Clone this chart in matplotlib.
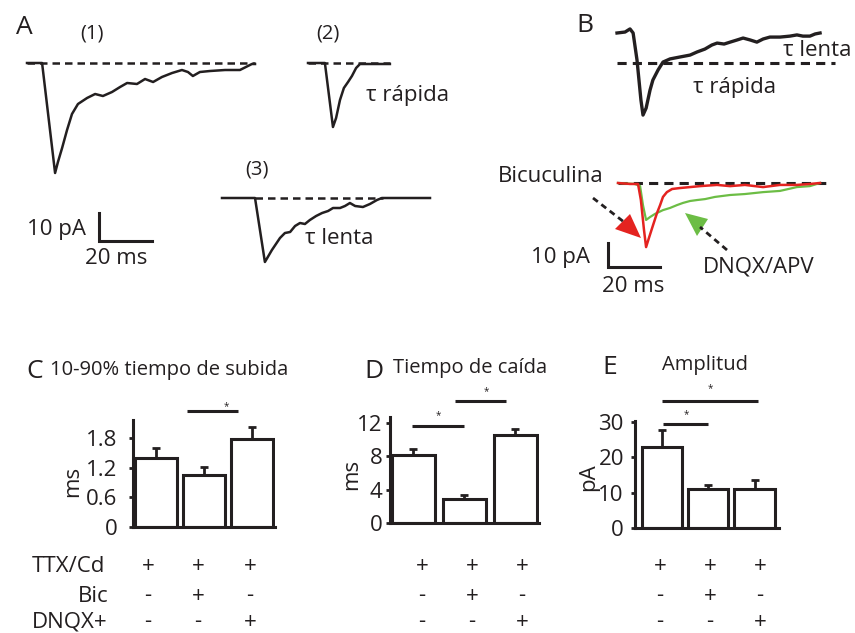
import matplotlib
matplotlib.use("Agg")
import matplotlib.pyplot as plt
from matplotlib.transforms import Affine2D
from matplotlib.patches import Polygon
import numpy as np

plt.rcParams['font.family'] = ['Open Sans', 'DejaVu Sans']

# ---------------- data ----------------
# Panel A traces (time in ms, current in pA)
a1_t = [0, 5.8, 10.8, 11.9, 13.5, 15.4, 17.3, 19.6, 23.1, 26.2, 29.2, 32.7, 35.8, 38.5, 42.3, 45.4,
        48.5, 51.9, 55.8, 59.6, 61.9, 63.8, 66.5, 70.4, 76.2, 81.9, 84.2, 86.5, 87.7]
a1_i = [0, 0, -44.0, -39.6, -34.0, -26.8, -20.4, -16.4, -14.0, -12.4, -13.2, -11.6, -9.6, -8.0, -8.4, -6.4,
        -7.6, -5.6, -4.0, -2.8, -3.6, -5.2, -3.6, -3.2, -2.8, -2.8, -1.6, -0.4, -0.4]
a2_t = [0, 6.5, 9.6, 10.8, 12.3, 13.8, 15.4, 16.9, 18.5, 20.0, 31.5]
a2_i = [0, 0, -25.6, -22.0, -14.8, -10.0, -7.6, -5.2, -2.0, -0.4, -0.4]
a3_t = [0, 12.7, 16.5, 19.2, 22.3, 24.2, 26.2, 28.1, 30.0, 31.9, 33.8, 36.2, 38.5, 40.8, 42.7, 45.4,
        47.3, 49.2, 51.2, 54.2, 56.9, 59.6, 61.5, 80.0]
a3_i = [0, 0, -25.6, -20.8, -16.0, -14.0, -13.6, -11.2, -10.0, -10.4, -8.8, -7.2, -6.0, -5.2, -4.0, -4.0,
        -3.2, -2.0, -3.2, -3.6, -2.4, -0.8, 0, 0]
# Panel B traces
b_t = [0, 3.1, 5.0, 6.2, 7.7, 9.2, 10.0, 11.2, 12.7, 13.8, 15.8, 17.7, 20.4, 24.2, 28.1, 30.8, 33.8, 36.5,
       38.5, 41.2, 43.5, 46.2, 48.5, 51.2, 53.8, 56.2, 58.8, 62.7, 66.5, 69.2, 71.5, 74.2, 76.2, 78.1]
b_i = [0, 0.4, 1.7, 0, -11.3, -27.9, -34.2, -31.3, -23.8, -19.6, -15.4, -12.1, -10.8, -10.0, -9.2, -7.9, -6.7, -5.0,
       -4.2, -4.6, -3.8, -2.9, -2.1, -2.9, -3.8, -2.5, -1.7, -1.7, -1.3, -0.8, -1.3, -1.3, -0.4, 0]
bic_t = [0, 4.6, 7.7, 8.8, 10.0, 10.8, 11.9, 13.5, 15.0, 16.2, 17.3, 18.8, 20.8, 23.8, 27.7, 31.5, 38.1,
         43.1, 48.8, 55.8, 62.3, 68.8, 73.8, 77.7]
bic_i = [0, -0.4, -0.4, -7.1, -19.6, -26.7, -22.9, -17.5, -12.5, -9.2, -5.8, -3.8, -2.5, -2.1, -1.7, -1.3, -0.8,
         -1.3, -0.8, -1.7, -0.8, -0.8, -0.4, 0]
dnqx_t = [0, 6.5, 8.5, 9.6, 10.8, 12.3, 14.2, 17.3, 20.0, 22.7, 25.0, 27.7, 30.4, 33.5, 37.3, 43.1, 48.8,
          55.8, 62.3, 68.8, 73.8, 77.7]
dnqx_i = [0, -0.4, -1.3, -9.2, -15.4, -14.2, -12.9, -11.3, -10.4, -9.2, -8.3, -7.5, -7.1, -6.7, -5.8, -5.0, -4.6,
          -3.8, -3.3, -1.7, -1.3, 0]

# Bar panels
rise_vals = [1.40, 1.06, 1.79]
rise_err = [0.20, 0.16, 0.24]
rise_ticks = [0, 0.6, 1.2, 1.8]
rise_ticklabels = ['0', '0.6', '1.2', '1.8']
decay_vals = [8.2, 2.9, 10.5]
decay_err = [0.7, 0.4, 0.8]
decay_ticks = [0, 4, 8, 12]
amp_vals = [22.9, 11.0, 11.0]
amp_err = [4.9, 1.2, 2.6]
amp_ticks = [0, 10, 20, 30]

row_labels = ['TTX/Cd', 'Bic', 'DNQX+']
ttx_row = ['+', '+', '+']
bic_row = ['-', '+', '-']
dnqx_row = ['-', '-', '+']

# ---------------- figure ----------------
W, H = 855, 633
fig = plt.figure(figsize=(W / 100, H / 100), dpi=100)
ov = fig.add_axes([0, 0, 1, 1], zorder=0)
ov.set_xlim(0, W)
ov.set_ylim(H, 0)
ov.axis('off')

K = '#231f20'
RED = '#e42320'
GREEN = '#6cbd45'
FS = 16      # general label size
FL = 19      # panel letters


def tf(x0, y0, pxms, pxpa):
    return Affine2D().scale(pxms, -pxpa).translate(x0, y0) + ov.transData


dash = (0, (3, 2))

# ---- Panel A ----
ov.text(24, 27, 'A', fontsize=FL, ha='center', va='center', color=K)
t = tf(27, 63, 2.6, 2.5)
ov.plot([a1_t[0], a1_t[-1]], [0, 0], transform=t, color=K, lw=1.8, ls=dash)
ov.plot(a1_t, a1_i, transform=t, color=K, lw=1.8)
ov.text(92, 33, '(1)', fontsize=14.5, ha='center', va='center', color=K)

t = tf(308, 63, 2.6, 2.5)
ov.plot([a2_t[0], a2_t[-1]], [0, 0], transform=t, color=K, lw=1.8, ls=dash)
ov.plot(a2_t, a2_i, transform=t, color=K, lw=1.8)
ov.text(328, 33, '(2)', fontsize=14.5, ha='center', va='center', color=K)
ov.text(366, 95, 'τ rápida', fontsize=FS, ha='left', va='center', color=K)

t = tf(222, 198, 2.6, 2.5)
ov.plot([a3_t[1], 62], [0, 0], transform=t, color=K, lw=1.8, ls=dash)
ov.plot(a3_t, a3_i, transform=t, color=K, lw=1.8)
ov.text(257, 170, '(3)', fontsize=14.5, ha='center', va='center', color=K)
ov.text(305, 239, 'τ lenta', fontsize=FS, ha='left', va='center', color=K)

ov.plot([99, 99, 152], [213, 241, 241], color=K, lw=2.2, solid_joinstyle='miter')
ov.text(86, 229, '10 pA', fontsize=FS, ha='right', va='center', color=K)
ov.text(116, 259, '20 ms', fontsize=FS, ha='center', va='center', color=K)

# ---- Panel B ----
ov.text(585, 25, 'B', fontsize=FL, ha='center', va='center', color=K)
ov.plot([617, 835], [63, 63], color=K, lw=2.2, ls=dash)
t = tf(617, 33, 2.6, 2.4)
ov.plot(b_t, b_i, transform=t, color=K, lw=2.4)
ov.text(783, 50, 'τ lenta', fontsize=FS, ha='left', va='center', color=K)
ov.text(693, 88, 'τ rápida', fontsize=FS, ha='left', va='center', color=K)

ov.plot([618, 827], [183, 183], color=K, lw=2.2, ls=dash, zorder=1)
t = tf(618, 183, 2.6, 2.4)
ov.plot(dnqx_t, dnqx_i, transform=t, color=GREEN, lw=1.6, zorder=2)
ov.plot(bic_t, bic_i, transform=t, color=RED, lw=1.8, zorder=3)
ov.text(498, 176, 'Bicuculina', fontsize=FS, ha='left', va='center', color=K)
ov.text(703, 267, 'DNQX/APV', fontsize=FS, ha='left', va='center', color=K)

# arrows
ov.plot([593, 624], [198, 222], color=K, lw=2, ls=(0, (2.2, 1.6)))
ov.add_patch(Polygon([[615, 229], [630, 214], [641, 238]], closed=True, color=RED, lw=0))
ov.plot([727, 700], [250, 227], color=K, lw=2, ls=(0, (2.2, 1.6)))
ov.add_patch(Polygon([[685, 213], [708, 219], [697, 236]], closed=True, color=GREEN, lw=0))

ov.plot([608, 608, 660], [243, 267, 267], color=K, lw=2.2, solid_joinstyle='miter')
ov.text(590, 258, '10 pA', fontsize=FS, ha='right', va='center', color=K)
ov.text(633, 287, '20 ms', fontsize=FS, ha='center', va='center', color=K)


# ---- bar panels ----
def px_ax(left, top, right, bottom):
    a = fig.add_axes([left / W, 1 - bottom / H, (right - left) / W, (bottom - top) / H], zorder=2)
    a.patch.set_alpha(0)
    return a


def bar_panel(box, xlim, ylim, vals, err, width, ticks, ticklabels, ylabel, lab_xy, pad):
    a = px_ax(*box)
    x = np.arange(len(vals))
    a.bar(x, vals, width=width, color='white', edgecolor=K, linewidth=2.2, zorder=2)
    a.errorbar(x, vals, yerr=[np.zeros(len(vals)), err], fmt='none', ecolor=K,
               elinewidth=2, capsize=3, capthick=2, zorder=1)
    a.set_xlim(*xlim)
    a.set_ylim(*ylim)
    for s in ['top', 'right']:
        a.spines[s].set_visible(False)
    for s in ['left', 'bottom']:
        a.spines[s].set_linewidth(2.2)
        a.spines[s].set_color(K)
    a.set_xticks([])
    a.set_yticks(ticks)
    a.set_yticklabels(ticklabels)
    a.tick_params(axis='y', direction='out', length=3, width=2, color=K, labelsize=FS,
                  pad=pad, labelcolor=K)
    a.set_ylabel(ylabel, fontsize=FS, color=K)
    a.yaxis.set_label_coords(*lab_xy)
    return a


def sig(a, x0, x1, y, sx, sy):
    a.plot([x0, x1], [y, y], color=K, lw=2.2, clip_on=False, solid_capstyle='butt')
    a.text(sx, sy, '*', fontsize=7, ha='center', va='center', color=K, clip_on=False)


axC = bar_panel((133, 420, 275, 527), (-0.48, 2.48), (0, 2.17), rise_vals, rise_err, 0.86,
                rise_ticks, rise_ticklabels, 'ms', (-0.35, 0.43), 8)
sig(axC, 0.65, 1.71, 2.36, 1.46, 2.44)

axD = bar_panel((390, 417, 539, 523), (-0.45, 2.46), (0, 12.7), decay_vals, decay_err, 0.84,
                decay_ticks, [str(v) for v in decay_ticks], 'ms', (-0.19, 0.46), 2.5)
sig(axD, -0.02, 1.0, 11.6, 0.49, 12.9)
sig(axD, 0.82, 1.82, 14.6, 1.43, 15.8)

axE = bar_panel((635, 421, 779, 528), (-0.59, 2.53), (0, 30.3), amp_vals, amp_err, 0.87,
                amp_ticks, [str(v) for v in amp_ticks], 'pA', (-0.25, 0.48), 5)
sig(axE, 0.02, 1.0, 29.5, 0.52, 32.2)
sig(axE, 0.0, 2.07, 36.0, 1.04, 39.4)

# panel letters and titles
ov.text(35, 372, 'C', fontsize=FL, ha='center', va='center', color=K)
ov.text(50, 370, '10-90% tiempo de subida', fontsize=14.5, ha='left', va='center', color=K)
ov.text(374, 371, 'D', fontsize=FL, ha='center', va='center', color=K)
ov.text(393, 368, 'Tiempo de caída', fontsize=14.5, ha='left', va='center', color=K)
ov.text(610, 367, 'E', fontsize=FL, ha='center', va='center', color=K)
ov.text(662, 365, 'Amplitud', fontsize=14.5, ha='left', va='center', color=K)

# condition table
row_y = [566, 596, 622]
ov.text(32, row_y[0], row_labels[0], fontsize=FS, ha='left', va='center', color=K)
ov.text(108, row_y[1], row_labels[1], fontsize=FS, ha='right', va='center', color=K)
ov.text(32, row_y[2], row_labels[2], fontsize=FS, ha='left', va='center', color=K)
col_x = [[148, 198, 250], [422, 472, 522], [660, 710, 760]]
for cols in col_x:
    for row, y in zip([ttx_row, bic_row, dnqx_row], row_y):
        for s, xx in zip(row, cols):
            ov.text(xx, y, s, fontsize=FS, ha='center', va='center', color=K)

fig.savefig('out.png', dpi=100)
